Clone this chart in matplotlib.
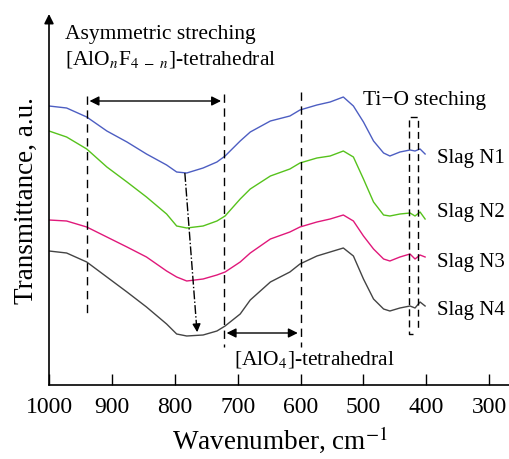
import matplotlib.pyplot as plt

plt.rcParams['font.family'] = ['Liberation Serif', 'DejaVu Serif']
plt.rcParams['mathtext.fontset'] = 'stix'

# wavenumber grid, cm-1
wavenumber = [1000, 972, 940, 908, 876, 845, 813, 797, 781, 755, 733, 720, 696, 680, 648,
              617, 601, 574, 553, 532, 516, 500, 484, 468, 458, 442, 426, 418, 410, 402]

# transmittance, a.u. (curves offset for clarity)
slag_n1 = [279, 277, 268, 254, 243, 231, 220, 213, 212, 217, 223, 229, 244, 253, 264,
           269, 275, 280, 283, 288, 279, 263, 244, 232, 229, 233, 235, 234, 236, 231]
slag_n2 = [254, 248, 236, 218, 203, 188, 171, 159, 157, 159, 164, 169, 186, 196, 209,
           216, 222, 227, 229, 234, 228, 206, 183, 170, 169, 171, 172, 169, 173, 166]
slag_n3 = [165, 164, 158, 148, 138, 128, 114, 108, 104, 106, 110, 113, 123, 132, 146,
           153, 158, 163, 166, 170, 164, 149, 136, 126, 124, 128, 131, 126, 130, 128]
slag_n4 = [134, 132, 123, 108, 93, 78, 61, 51, 49, 50, 54, 59, 71, 85, 103,
           113, 121, 129, 133, 137, 129, 106, 86, 76, 74, 77, 79, 77, 83, 79]

labels = ['Slag N1', 'Slag N2', 'Slag N3', 'Slag N4']
colors = ['#4d5ec2', '#56c21c', '#e0187a', '#444444']
label_y = [228, 173, 123, 76]

fig = plt.figure(figsize=(5.1, 4.6), dpi=100)
ax = fig.add_axes([49 / 510, 74 / 460, 461 / 510, 371 / 460])

for series, c in zip([slag_n1, slag_n2, slag_n3, slag_n4], colors):
    ax.plot(wavenumber, series, color=c, lw=1.0)

for lab, yy in zip(labels, label_y):
    ax.text(383, yy, lab, fontsize=15, va='center', ha='left')

# dashed guide lines
ax.plot([940, 940], [289, 71], 'k--', lw=1.0, dashes=(6, 4))
ax.plot([722, 722], [291, 38], 'k--', lw=1.0, dashes=(6, 4))
ax.plot([600, 600], [293, 38], 'k--', lw=1.0, dashes=(6, 4))

# Ti-O bracket
ax.plot([422, 427, 427, 413, 413], [51, 51, 268, 268, 56], 'k--', lw=1.0, dashes=(5, 3))

# double arrows
ax.annotate('', xy=(722, 284), xytext=(940, 284),
            arrowprops=dict(arrowstyle='<|-|>', color='k', lw=1.0, mutation_scale=14))
ax.annotate('', xy=(600, 52), xytext=(722, 52),
            arrowprops=dict(arrowstyle='<|-|>', color='k', lw=1.0, mutation_scale=14))

# shift of the band minimum
ax.plot([784, 765], [212, 56], color='k', lw=1.0, ls='-.')
ax.annotate('', xy=(764, 50), xytext=(765.5, 62),
            arrowprops=dict(arrowstyle='-|>', color='k', lw=1.0, mutation_scale=12))

ax.text(975, 351, 'Asymmetric streching', fontsize=15.5, va='center')
ax.text(975, 326, r'[AlO$_{n}$F$_{4\ -\ n}$]-tetrahedral', fontsize=15.5, va='center')
ax.text(500, 286, 'Ti\u2212O steching', fontsize=15.5, va='center')
ax.text(706, 26, r'[AlO$_4$]-tetrahedral', fontsize=15.5, va='center')

ax.set_xlim(1000, 267)
ax.set_ylim(0, 371)
ax.set_xticks([1000, 900, 800, 700, 600, 500, 400, 300])
ax.set_yticks([])
ax.tick_params(axis='x', direction='in', length=8, width=1.0, labelsize=17, pad=8)
for s in ['top', 'right', 'left']:
    ax.spines[s].set_visible(False)
ax.spines['bottom'].set_linewidth(1.2)
ax.annotate('', xy=(0, 1.0), xytext=(0, 0), xycoords='axes fraction',
            arrowprops=dict(arrowstyle='-|>', color='k', lw=1.2, mutation_scale=14,
                            shrinkA=0, shrinkB=0))

ax.set_xlabel('Wavenumber, cm$^{-1}$', fontsize=19.5, labelpad=4.5)
ax.set_ylabel('Transmittance, a.u.', fontsize=19.5, labelpad=7)

fig.savefig('out.png', dpi=100)
